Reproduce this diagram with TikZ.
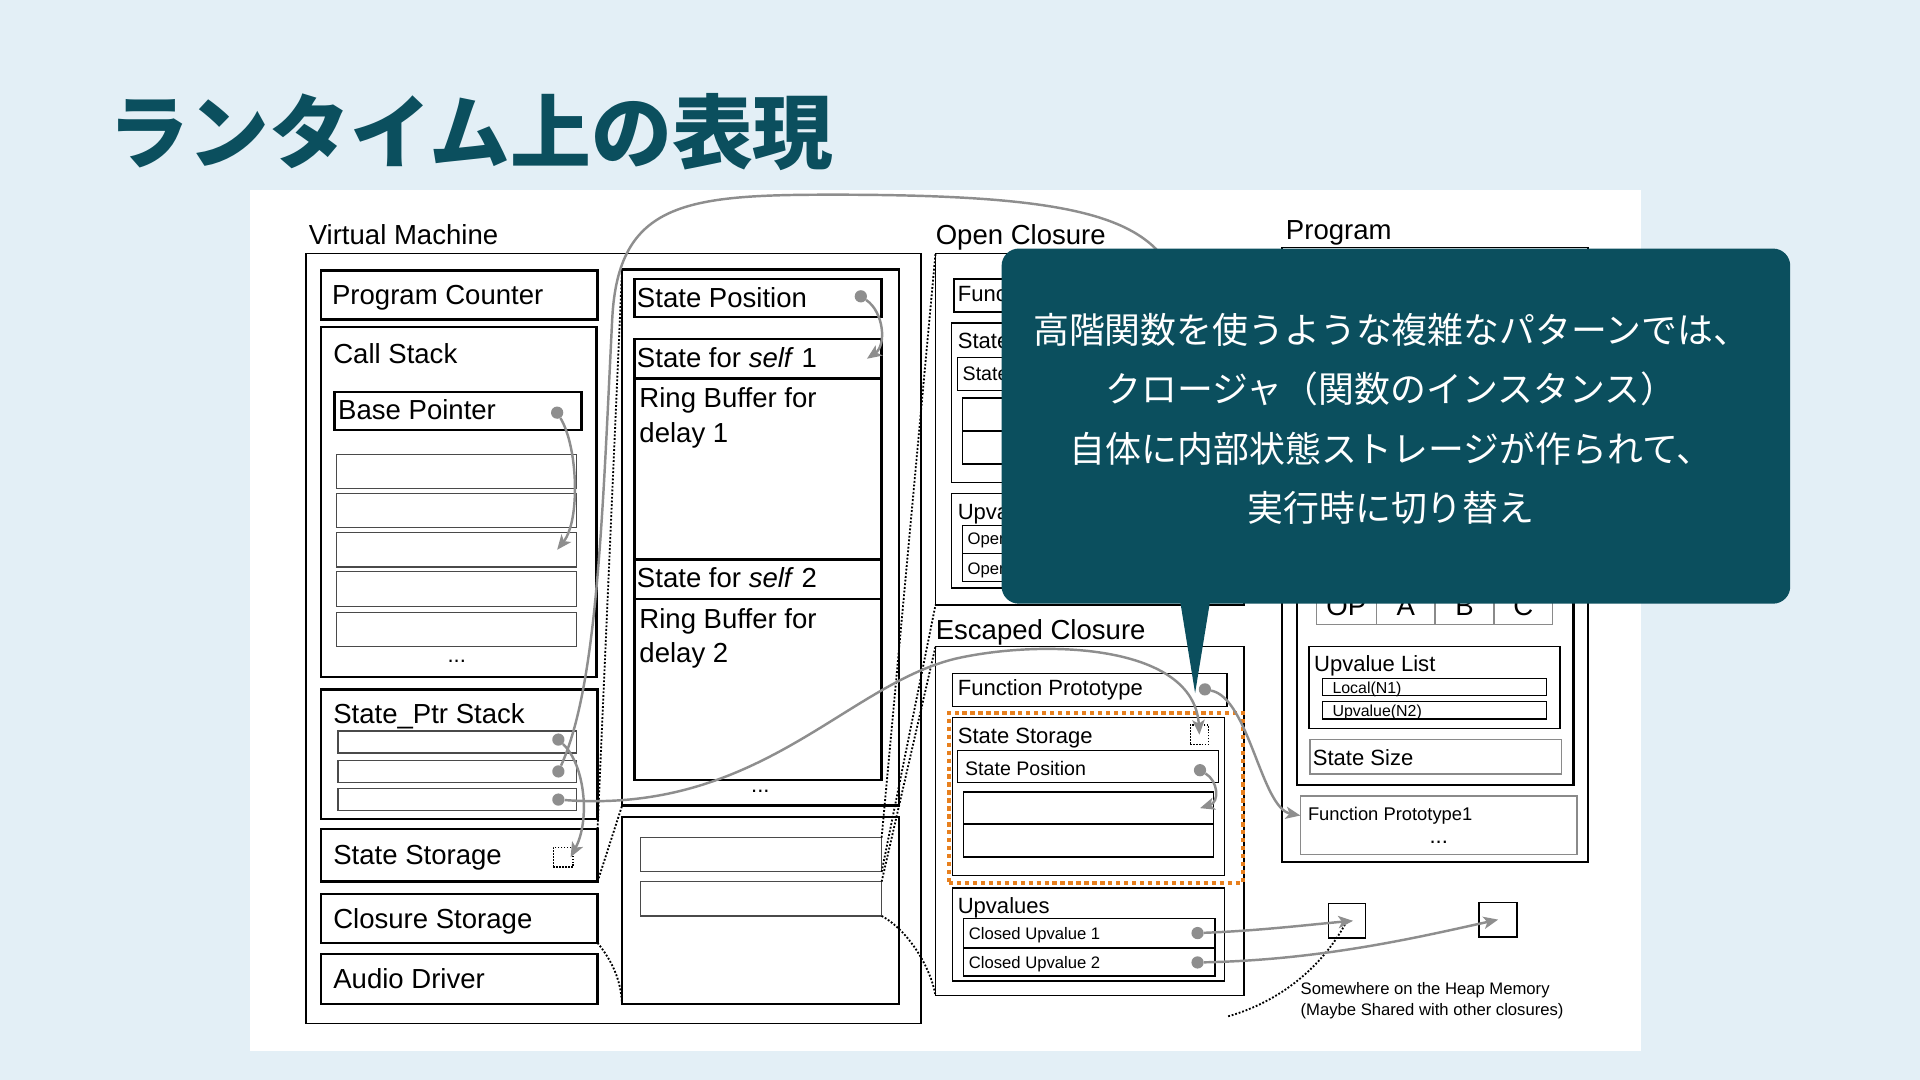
\documentclass[tikz,border=0pt]{standalone}
\usepackage{fontspec}
\setmainfont{Liberation Sans}
\newfontfamily\jpfont{Noto Sans CJK JP}
\usetikzlibrary{arrows.meta}
\definecolor{rtBack}{HTML}{E3EFF6}
\definecolor{rtTeal}{HTML}{0B4F5E}
\definecolor{rtPtr}{HTML}{8E8E8E}
\definecolor{rtOrange}{HTML}{E8801E}
\definecolor{rtCell}{HTML}{4A4A4A}
\definecolor{rtLight}{HTML}{8A8A8A}
\newcommand\rtL{\fontsize{22.5}{26}\selectfont}
\newcommand\rtM{\fontsize{18}{21}\selectfont}
\newcommand\rtS{\fontsize{16}{19}\selectfont}
\newcommand\rtXS{\fontsize{13.6}{16}\selectfont}
\newcommand\rtT{\fontsize{13}{15}\selectfont}
\tikzset{
  rtfig/.style={x=1pt, y=-1pt, >={Stealth[length=12pt, width=10pt, inset=3pt]}},
  sz/.style 2 args={minimum width=#1pt, minimum height=#2pt},
  boxline/.style={draw=black, line width=1.3pt, anchor=north west, inner sep=0pt, outer sep=0pt},
  heavybox/.style={boxline, line width=2pt},
  stackcell/.style={boxline, draw=rtCell, line width=1pt},
  lightcell/.style={boxline, draw=rtLight, line width=1.2pt},
  opcell/.style={lightcell, font=\rtL},
  slot/.style={boxline, line width=1pt, dash pattern=on 1.2pt off 1.2pt},
  selbox/.style={boxline, draw=rtOrange, line width=3.5pt, dash pattern=on 3.5pt off 3pt},
  lbl/.style={anchor=base west, inner sep=0pt, font=\rtL},
  lblM/.style={lbl, font=\rtM},
  lblS/.style={lbl, font=\rtS},
  lblXS/.style={lbl, font=\rtXS},
  lblT/.style={lbl, font=\rtT},
  more/.style={inner sep=0pt, font=\rtM},
  ptrdot/.style={circle, fill=rtPtr, inner sep=0pt, minimum size=10pt},
  ptr/.style={draw=rtPtr, line width=2pt, ->},
  zoomline/.style={draw=black, line width=1.5pt, dash pattern=on 1.5pt off 1.5pt},
  callout/.style={fill=rtTeal, rounded corners=14pt},
  slidetitle/.style={anchor=west, inner sep=0pt, text=rtTeal, font=\jpfont\bfseries\fontsize{66}{70}\selectfont},
  calltext/.style={align=center, text=white, inner sep=0pt, font=\jpfont\fontsize{29.3}{48.5}\selectfont},
}

\begin{document}
\begin{tikzpicture}[rtfig]
  \useasboundingbox (0,0) rectangle (1568,882);
  \fill[rtBack] (0,0) rectangle (1568,882);
  \fill[white] (204,155) rectangle (1340,858);
  \node[slidetitle] (title) at (88,108) {ランタイム上の表現};

  % Virtual Machine
  \node[lbl] (lVM) at (252,200) {Virtual Machine};
  \node[boxline, sz={502}{629}] (VM) at (250,207) {};
  \node[heavybox, sz={226}{40}] (PC) at (262,221) {};
  \node[lbl] (lPC) at (271,249) {Program Counter};
  \node[heavybox, sz={225}{286}] (CallSt) at (262,267) {};
  \node[lbl] (lCallSt) at (272,297) {Call Stack};
  \node[heavybox, sz={202}{31}] (BasePtr) at (273,320) {};
  \node[lbl] (lBasePtr) at (276,343) {Base Pointer};
  \foreach \i/\y in {1/371,2/403,3/435,4/467,5/500}
    \node[stackcell, sz={196}{28}] (CS\i) at (275,\y) {};
  \node[more] (moreCS) at (373,540) {...};
  \node[heavybox, sz={226}{106}] (PtrSt) at (262,563) {};
  \node[lbl] (lPtrSt) at (272,591) {State\_Ptr Stack};
  \foreach \i/\y in {1/597,2/621,3/644}
    \node[stackcell, sz={195}{18}] (PS\i) at (276,\y) {};
  \node[heavybox, sz={226}{43}] (VMSS) at (262,677) {};
  \node[lbl] (lVMSS) at (272,706) {State Storage};
  \node[slot, sz={16}{16}] (VMSq) at (452,692) {};
  \node[heavybox, sz={226}{40}] (CloS) at (262,730) {};
  \node[lbl] (lCloS) at (272,758) {Closure Storage};
  \node[heavybox, sz={226}{41}] (Audio) at (262,779) {};
  \node[lbl] (lAudio) at (272,807) {Audio Driver};

  % state storage, expanded
  \node[heavybox, sz={226}{438}] (MidTop) at (508,220) {};
  \node[heavybox, sz={202}{31}] (SPos) at (518,228) {};
  \node[lbl] (lSPos) at (520,251) {State Position};
  \node[heavybox, sz={202}{32}] (Self1) at (518,277) {};
  \node[lbl] (lSelf1) at (520,300) {State for \textit{self} 1};
  \node[heavybox, sz={202}{148}] (Ring1) at (518,309) {};
  \node[lbl] (lRing1a) at (522,333) {Ring Buffer for};
  \node[lbl] (lRing1b) at (522,361) {delay 1};
  \node[heavybox, sz={202}{32}] (Self2) at (518,457) {};
  \node[lbl] (lSelf2) at (520,480) {State for \textit{self} 2};
  \node[heavybox, sz={202}{148}] (Ring2) at (518,489) {};
  \node[lbl] (lRing2a) at (522,513) {Ring Buffer for};
  \node[lbl] (lRing2b) at (522,541) {delay 2};
  \node[more] (moreMid) at (621,646) {...};
  % closure storage, expanded
  \node[heavybox, sz={226}{153}] (MidBot) at (508,667) {};
  \node[stackcell, sz={197}{28}] (MB1) at (523,684) {};
  \node[stackcell, sz={197}{28}] (MB2) at (523,720) {};

  % Open Closure (mostly under the callout)
  \node[lbl] (lOC) at (764,200) {Open Closure};
  \node[boxline, sz={252}{287}] (OpenCl) at (764,207) {};
  \node[boxline, sz={222}{27}] (OFP) at (779,228) {};
  \node[boxline, sz={223}{130}] (OSS) at (777,264) {};
  \node[slot, sz={15}{16}] (OSq) at (972,270) {};
  \node[boxline, sz={213}{27}] (OSP) at (782,292) {};
  \node[boxline, sz={210}{27}] (OC1) at (786,325) {};
  \node[boxline, sz={210}{27}] (OC2) at (786,352) {};
  \node[boxline, sz={223}{77}] (OUp) at (777,403) {};
  \node[boxline, sz={206}{23}] (OU1) at (786,429) {};
  \node[boxline, sz={206}{23}] (OU2) at (786,452) {};
  \begin{scope}
    \clip (760,210) rectangle (818,490);
    \node[lblM] (lOFP) at (782,246) {Function Prototype};
    \node[lblM] (lOSS) at (782,285) {State};
    \node[lblS] (lOSP) at (786,311) {State Position};
    \node[lblM] (lOUp) at (782,424) {Upvalues};
    \node[lblXS] (lOU1) at (790,445) {Open Upvalue 1};
    \node[lblXS] (lOU2) at (790,469) {Open Upvalue 2};
  \end{scope}

  % Escaped Closure
  \node[lbl] (lEC) at (764,522) {Escaped Closure};
  \node[boxline, sz={252}{285}] (EscCl) at (764,528) {};
  \node[boxline, sz={224}{27}] (EFP) at (778,550) {};
  \node[lblM] (lEFP) at (782,568) {Function Prototype};
  \node[boxline, sz={222}{129}] (ESS) at (778,586) {};
  \node[lblM] (lESS) at (782,607) {State Storage};
  \node[slot, sz={15}{16}] (ESq) at (972,592) {};
  \node[boxline, sz={213}{26}] (ESP) at (782,613) {};
  \node[lblS] (lESP) at (788,633) {State Position};
  \node[boxline, sz={204}{26}] (EC1) at (787,647) {};
  \node[boxline, sz={204}{27}] (EC2) at (787,673) {};
  \node[selbox, sz={240}{139}] (ESSel) at (775,582) {};
  \node[boxline, sz={222}{76}] (EUp) at (778,725) {};
  \node[lblM] (lEUp) at (782,746) {Upvalues};
  \node[boxline, sz={205}{24}] (CU1) at (787,750) {};
  \node[lblXS] (lCU1) at (791,767) {Closed Upvalue 1};
  \node[boxline, sz={205}{23}] (CU2) at (787,774) {};
  \node[lblXS] (lCU2) at (791,791) {Closed Upvalue 2};

  % Program
  \node[lbl] (lProg) at (1050,196) {Program};
  \node[boxline, sz={250}{502}] (Prog) at (1047,202) {};
  \node[heavybox, sz={226}{427}] (Proto) at (1059,214) {};
  \node[opcell, sz={49}{30}] (cOP) at (1075,480) {OP};
  \node[opcell, sz={48}{30}] (cA) at (1124,480) {A};
  \node[opcell, sz={48}{30}] (cB) at (1172,480) {B};
  \node[opcell, sz={48}{30}] (cC) at (1220,480) {C};
  \node[boxline, sz={205}{67}] (UpList) at (1069,528) {};
  \node[lblM] (lUpList) at (1073,548) {Upvalue List};
  \node[boxline, sz={183}{14}] (Loc) at (1080,554) {};
  \node[lblT] (lLoc) at (1088,566) {Local(N1)};
  \node[boxline, sz={183}{14}] (Upv) at (1080,573) {};
  \node[lblT] (lUpv) at (1088,585) {Upvalue(N2)};
  \node[lightcell, sz={205}{28}] (SSize) at (1070,604) {};
  \node[lblM] (lSSize) at (1072,625) {State Size};
  \node[lightcell, sz={226}{48}] (FP1) at (1062,650) {};
  \node[lbl, font=\fontsize{15}{18}\selectfont] (lFP1) at (1068,670) {Function Prototype1};
  \node[more] (moreFP) at (1175,688) {...};

  % heap
  \node[boxline, sz={30}{28}] (Heap1) at (1085,738) {};
  \node[boxline, sz={31}{28}] (Heap2) at (1208,737) {};
  \node[lblXS] (lHeapA) at (1062,812) {Somewhere on the Heap Memory};
  \node[lblXS] (lHeapB) at (1062,829) {(Maybe Shared with other closures)};
  \coordinate (heapNote) at (1003,830);

  % expansion lines
  \draw[zoomline] (VMSS.north east) -- (MidTop.north west);
  \draw[zoomline] (VMSS.south east) -- (MidTop.south west);
  \draw[zoomline] (CloS.south east) .. controls (500,785) and (507,800) .. (MidBot.south west);
  \draw[zoomline] (MB1.north east) -- (OpenCl.north west);
  \draw[zoomline] (MB1.south east) -- (OpenCl.south west);
  \draw[zoomline] (MB2.north east) -- (EscCl.north west);
  \draw[zoomline] (MB2.south east) .. controls (742,760) and (760,790) .. (EscCl.south west);
  \draw[zoomline] (heapNote) .. controls (1045,818) and (1080,790) .. (Heap1.center);

  % pointers
  \node[ptrdot] (dBP) at (455,337) {};
  \node[ptrdot] (dSPos) at (703,242) {};
  \node[ptrdot] (dPtr1) at (456,604) {};
  \node[ptrdot] (dPtr2) at (456,630) {};
  \node[ptrdot] (dPtr3) at (456,653) {};
  \node[ptrdot] (dEFP) at (984,563) {};
  \node[ptrdot] (dESP) at (980,629) {};
  \node[ptrdot] (dCU1) at (978,762) {};
  \node[ptrdot] (dCU2) at (978,786) {};
  \draw[ptr] (dBP) .. controls (472,365) and (474,425) .. ([xshift=-16pt]CS3.east);
  \draw[ptr] (dSPos) .. controls (722,255) and (724,282) .. ([xshift=-12pt]Self1.east);
  \draw[ptr] (dPtr1) .. controls (478,625) and (482,670) .. ([xshift=-2pt]VMSq.east);
  \draw[ptr] (dPtr2) .. controls (488,560) and (492,420) .. (500,260)
    .. controls (505,165) and (560,159) .. (680,159)
    .. controls (850,159) and (920,172) .. (950,210)
    .. controls (968,232) and (978,255) .. (OSq.center);
  \draw[ptr] (dPtr3) .. controls (620,665) and (690,560) .. (780,538)
    .. controls (850,522) and (975,525) .. (ESq.center);
  \draw[ptr] (dEFP) .. controls (1020,570) and (1030,660) .. ([yshift=8pt]FP1.west);
  \draw[ptr] (dESP) .. controls (995,638) and (996,655) .. ([xshift=-11pt]EC1.east);
  \draw[ptr] (dCU1) .. controls (1030,760) and (1070,755) .. ([xshift=5pt]Heap1.center);
  \draw[ptr] (dCU2) .. controls (1080,784) and (1160,765) .. (Heap2.center);

  % callout
  \fill[callout] (818,203) rectangle (1462,493);
  \fill[rtTeal] (962,480) -- (976,566) -- (990,480) -- cycle;
  \node[calltext] (callTxt) at (1136,342) {高階関数を使うような複雑なパターンでは、\\クロージャ（関数のインスタンス）\\自体に内部状態ストレージが作られて、\\実行時に切り替え};
\end{tikzpicture}
\end{document}
